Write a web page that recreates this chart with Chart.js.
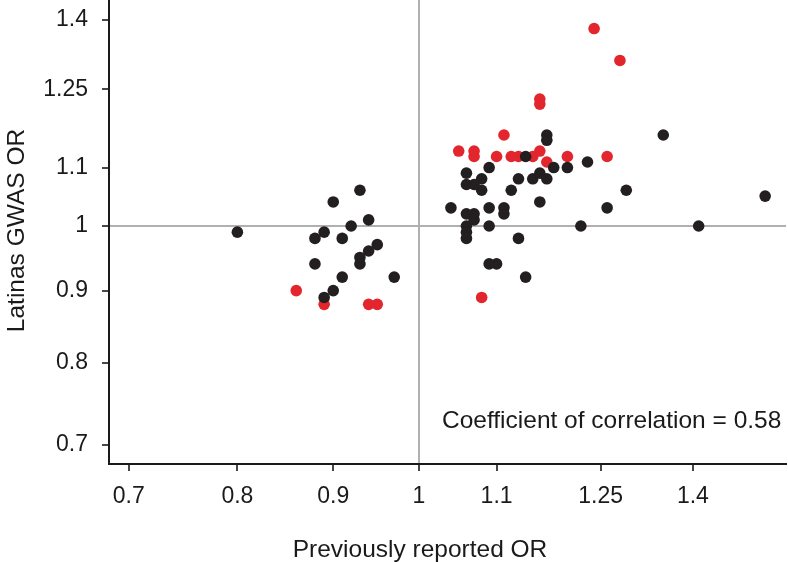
<!DOCTYPE html>
<html>
<head>
<meta charset="utf-8">
<script src="https://cdn.jsdelivr.net/npm/chart.js@4/dist/chart.umd.min.js"></script>
<style>
  html, body { margin: 0; padding: 0; background: #fff; }
  #wrap { width: 788px; height: 562px; }
</style>
</head>
<body>
<div id="wrap"><canvas id="c" width="788" height="562"></canvas></div>
<script>
// ---- Data ----
const xTickValues = [0.7, 0.8, 0.9, 1, 1.1, 1.25, 1.4];
const yTickValues = [0.7, 0.8, 0.9, 1, 1.1, 1.25, 1.4];

// Black points: previously reported OR (x) vs Latinas GWAS OR (y)
const blackX = [0.80, 0.93, 0.90, 0.89, 0.92, 0.94, 0.88, 0.91, 0.95, 0.94, 0.93, 0.93, 0.88, 0.91, 0.97, 0.90, 0.89,
                1.17, 1.17, 1.14, 1.09, 1.18, 1.20, 1.23, 1.06, 1.16, 1.06, 1.07, 1.08, 1.08, 1.13, 1.15, 1.17, 1.12, 1.29,
                1.16, 1.04, 1.09, 1.11, 1.11, 1.06, 1.07, 1.07, 1.06, 1.06, 1.06, 1.09, 1.22, 1.26, 1.13, 1.09, 1.10, 1.14,
                1.35, 1.41, 1.53];
const blackY = [0.99, 1.06, 1.04, 0.99, 1.00, 1.01, 0.98, 0.98, 0.97, 0.96, 0.95, 0.94, 0.94, 0.92, 0.92, 0.90, 0.89,
                1.16, 1.15, 1.12, 1.10, 1.10, 1.10, 1.11, 1.09, 1.09, 1.07, 1.07, 1.08, 1.06, 1.08, 1.08, 1.08, 1.06, 1.06,
                1.04, 1.03, 1.03, 1.03, 1.02, 1.02, 1.02, 1.01, 1.00, 0.99, 0.98, 1.00, 1.00, 1.03, 0.98, 0.94, 0.94, 0.92,
                1.16, 1.00, 1.05];

// Red points
const redX = [0.86, 0.89, 0.94, 0.95,
              1.11, 1.05, 1.07, 1.07, 1.10, 1.12, 1.13, 1.15, 1.16, 1.17, 1.20, 1.26, 1.24, 1.28, 1.16, 1.16, 1.08];
const redY = [0.90, 0.88, 0.88, 0.88,
              1.16, 1.13, 1.13, 1.12, 1.12, 1.12, 1.12, 1.12, 1.13, 1.11, 1.12, 1.12, 1.38, 1.31, 1.23, 1.22, 0.89];

const xTitle = 'Previously reported OR';
const yTitle = 'Latinas GWAS OR';
const annotation = 'Coefficient of correlation = 0.58';

// ---- Build ----
const toPoints = (xs, ys) => xs.map((x, i) => ({ x: x, y: ys[i] }));

const FONT = '"Liberation Sans", Arial, Helvetica, sans-serif';
const TEXT = '#1a1a1a';

const textPlugin = {
  id: 'texts',
  afterDraw(chart) {
    const ctx = chart.ctx;
    ctx.save();
    ctx.fillStyle = TEXT;
    ctx.font = '24.5px ' + FONT;
    ctx.textBaseline = 'alphabetic';
    // x title
    ctx.textAlign = 'center';
    ctx.fillText(xTitle, 420, 557);
    // annotation
    ctx.textAlign = 'left';
    ctx.fillText(annotation, 442, 428);
    // y title
    ctx.translate(24, 230.5);
    ctx.rotate(-Math.PI / 2);
    ctx.textAlign = 'center';
    ctx.fillText(yTitle, 0, 0);
    ctx.restore();
  }
};

const gridColor = (ctx) => (ctx.tick && ctx.tick.value === 1) ? '#b0b0b0' : 'rgba(0,0,0,0)';
const noPad = (scale) => { scale.paddingTop = 0; scale.paddingBottom = 0; scale.paddingLeft = 0; scale.paddingRight = 0; };

new Chart(document.getElementById('c'), {
  type: 'scatter',
  data: {
    datasets: [
      {
        label: 'black',
        data: toPoints(blackX, blackY),
        backgroundColor: '#231f20',
        borderColor: '#231f20',
        borderWidth: 0,
        pointRadius: 5.8,
        order: 1
      },
      {
        label: 'red',
        data: toPoints(redX, redY),
        backgroundColor: '#e3262d',
        borderColor: '#e3262d',
        borderWidth: 0,
        pointRadius: 5.8,
        order: 2
      }
    ]
  },
  options: {
    responsive: false,
    animation: false,
    devicePixelRatio: 1,
    layout: { autoPadding: false, padding: { left: 0, right: 2, top: 0, bottom: 0 } },
    plugins: {
      legend: { display: false },
      tooltip: { enabled: false },
      title: { display: false }
    },
    scales: {
      x: {
        type: 'logarithmic',
        min: 0.68327,
        max: 1.5697,
        afterBuildTicks: (scale) => { scale.ticks = xTickValues.map(v => ({ value: v })); },
        afterFit: (scale) => { scale.height = 98; noPad(scale); },
        ticks: {
          autoSkip: false,
          maxRotation: 0,
          padding: 12,
          color: TEXT,
          font: { family: FONT, size: 23 },
          callback: (v) => String(v)
        },
        grid: {
          color: gridColor,
          lineWidth: 2,
          tickColor: '#1a1a1a',
          tickWidth: 1.6,
          tickLength: 7,
          drawTicks: true
        },
        border: { display: true, color: '#1a1a1a', width: 2 }
      },
      y: {
        type: 'logarithmic',
        min: 0.67823,
        max: 1.4458,
        afterBuildTicks: (scale) => { scale.ticks = yTickValues.map(v => ({ value: v })); },
        afterFit: (scale) => { scale.width = 109; noPad(scale); },
        ticks: {
          autoSkip: false,
          padding: 14,
          color: TEXT,
          font: { family: FONT, size: 23 },
          callback: (v) => String(v)
        },
        grid: {
          color: gridColor,
          lineWidth: 2,
          tickColor: '#1a1a1a',
          tickWidth: 1.6,
          tickLength: 7,
          drawTicks: true
        },
        border: { display: true, color: '#1a1a1a', width: 2 }
      }
    }
  },
  plugins: [textPlugin]
});
</script>
</body>
</html>
